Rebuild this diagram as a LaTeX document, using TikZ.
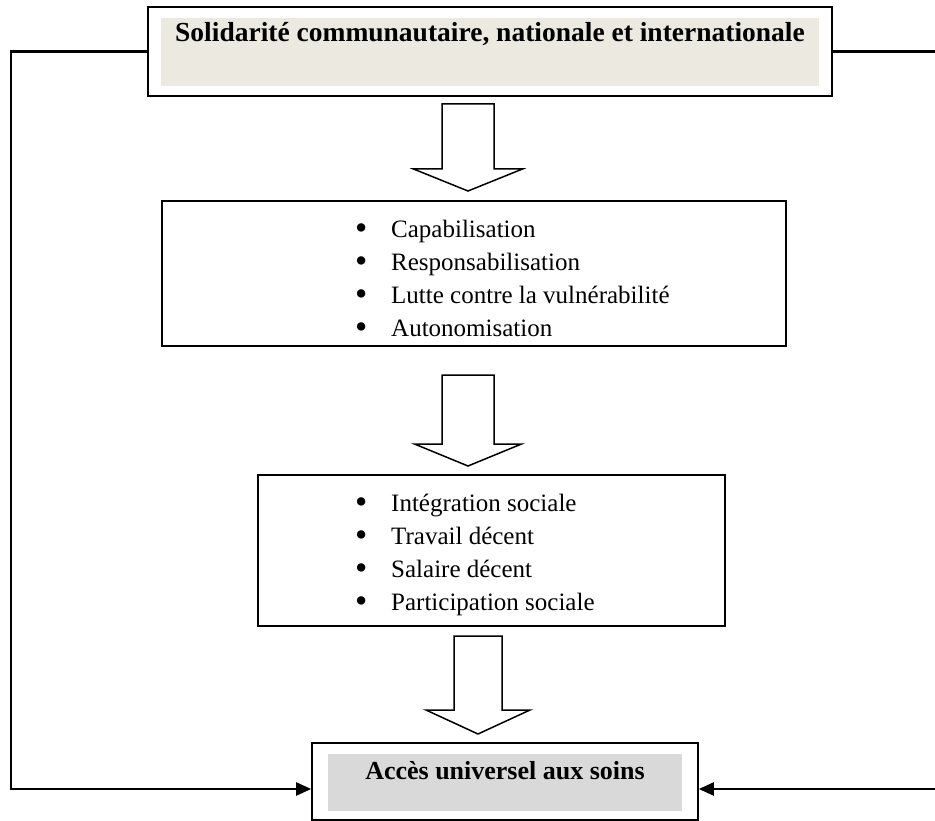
\documentclass[tikz,border=0pt]{standalone}
\usepackage{fontspec}
\setmainfont{Liberation Serif}
\usetikzlibrary{arrows.meta}
\definecolor{beige}{RGB}{236,233,224}
\definecolor{lightgray}{RGB}{217,217,217}
\tikzset{
  framebox/.style={draw=black, line width=1.6pt, rectangle, inner sep=0pt},
  shade/.style={rectangle, inner sep=0pt, draw=none},
  heading/.style={font={\fontsize{27.5}{30}\selectfont\bfseries}, inner sep=0pt, anchor=base},
  subheading/.style={font={\fontsize{26}{30}\selectfont\bfseries}, inner sep=0pt, anchor=base},
  itemlist/.style={font={\fontsize{25}{33}\selectfont}, align=left, inner sep=0pt, anchor=north west},
  conn/.style={line width=2.2pt, -{Triangle[length=15pt,width=13pt]}},
  blockarrow/.style={draw=black, line width=1.5pt, fill=white, line join=miter}
}
% hollow downward block arrow: centre x, top, shoulder, tip, half shaft, half head
\newcommand\blockdown[6]{%
  \draw[blockarrow] (#1-#5,#2) -- (#1+#5,#2) -- (#1+#5,#3) -- (#1+#6,#3)
    -- (#1,#4) -- (#1-#6,#3) -- (#1-#5,#3) -- cycle;}
% list entry with a round bullet
\newcommand\itm[1]{\strut\makebox[36pt][l]{\raisebox{-2pt}{\scalebox{1.4}{•}}}#1}
\begin{document}
\begin{tikzpicture}[x=1pt,y=-1pt]
\useasboundingbox (0,0) rectangle (935,821);

% top box: solidarity
\node[framebox, minimum width=684pt, minimum height=89pt] (tb) at (490,51.5) {};
\node[shade, fill=beige, minimum width=658pt, minimum height=68pt] (tbfill) at (490,52) {};
\node[heading] (tbtext) at (490,42) {Solidarité communautaire, nationale et internationale};

% second box
\node[framebox, minimum width=624pt, minimum height=145pt] (b2) at (474,273.5) {};
\node[itemlist] (l2) at (355,213.9) {\itm{Capabilisation}\\ \itm{Responsabilisation}\\ \itm{Lutte contre la vulnérabilité}\\ \itm{Autonomisation}};

% third box
\node[framebox, minimum width=467pt, minimum height=151pt] (b3) at (491.5,550.5) {};
\node[itemlist] (l3) at (355,487.9) {\itm{Intégration sociale}\\ \itm{Travail décent}\\ \itm{Salaire décent}\\ \itm{Participation sociale}};

% bottom box: access to care
\node[framebox, minimum width=386pt, minimum height=77pt] (bb) at (505,781.5) {};
\node[shade, fill=lightgray, minimum width=354pt, minimum height=57pt] (bbfill) at (505,782.5) {};
\node[subheading] (bbtext) at (505,779) {Accès universel aux soins};

% block arrows between the boxes
\blockdown{468}{104}{169}{191}{26}{54.5}
\blockdown{468}{375}{444}{466}{26}{53.5}
\blockdown{478}{636}{710}{734}{24}{52}

% side connectors
\coordinate (lx) at (11,0);
\coordinate (rx) at (937,0);
\coordinate (bbL) at ([yshift=-7.5pt]bb.west);
\coordinate (bbR) at ([yshift=-7.5pt]bb.east);
\draw[conn, line join=miter] (tb.west) -- (tb.west -| lx) -- (lx |- bbL) -- (bbL);
\draw[conn, line join=miter] (tb.east) -- (tb.east -| rx) -- (rx |- bbR) -- (bbR);
\end{tikzpicture}
\end{document}
